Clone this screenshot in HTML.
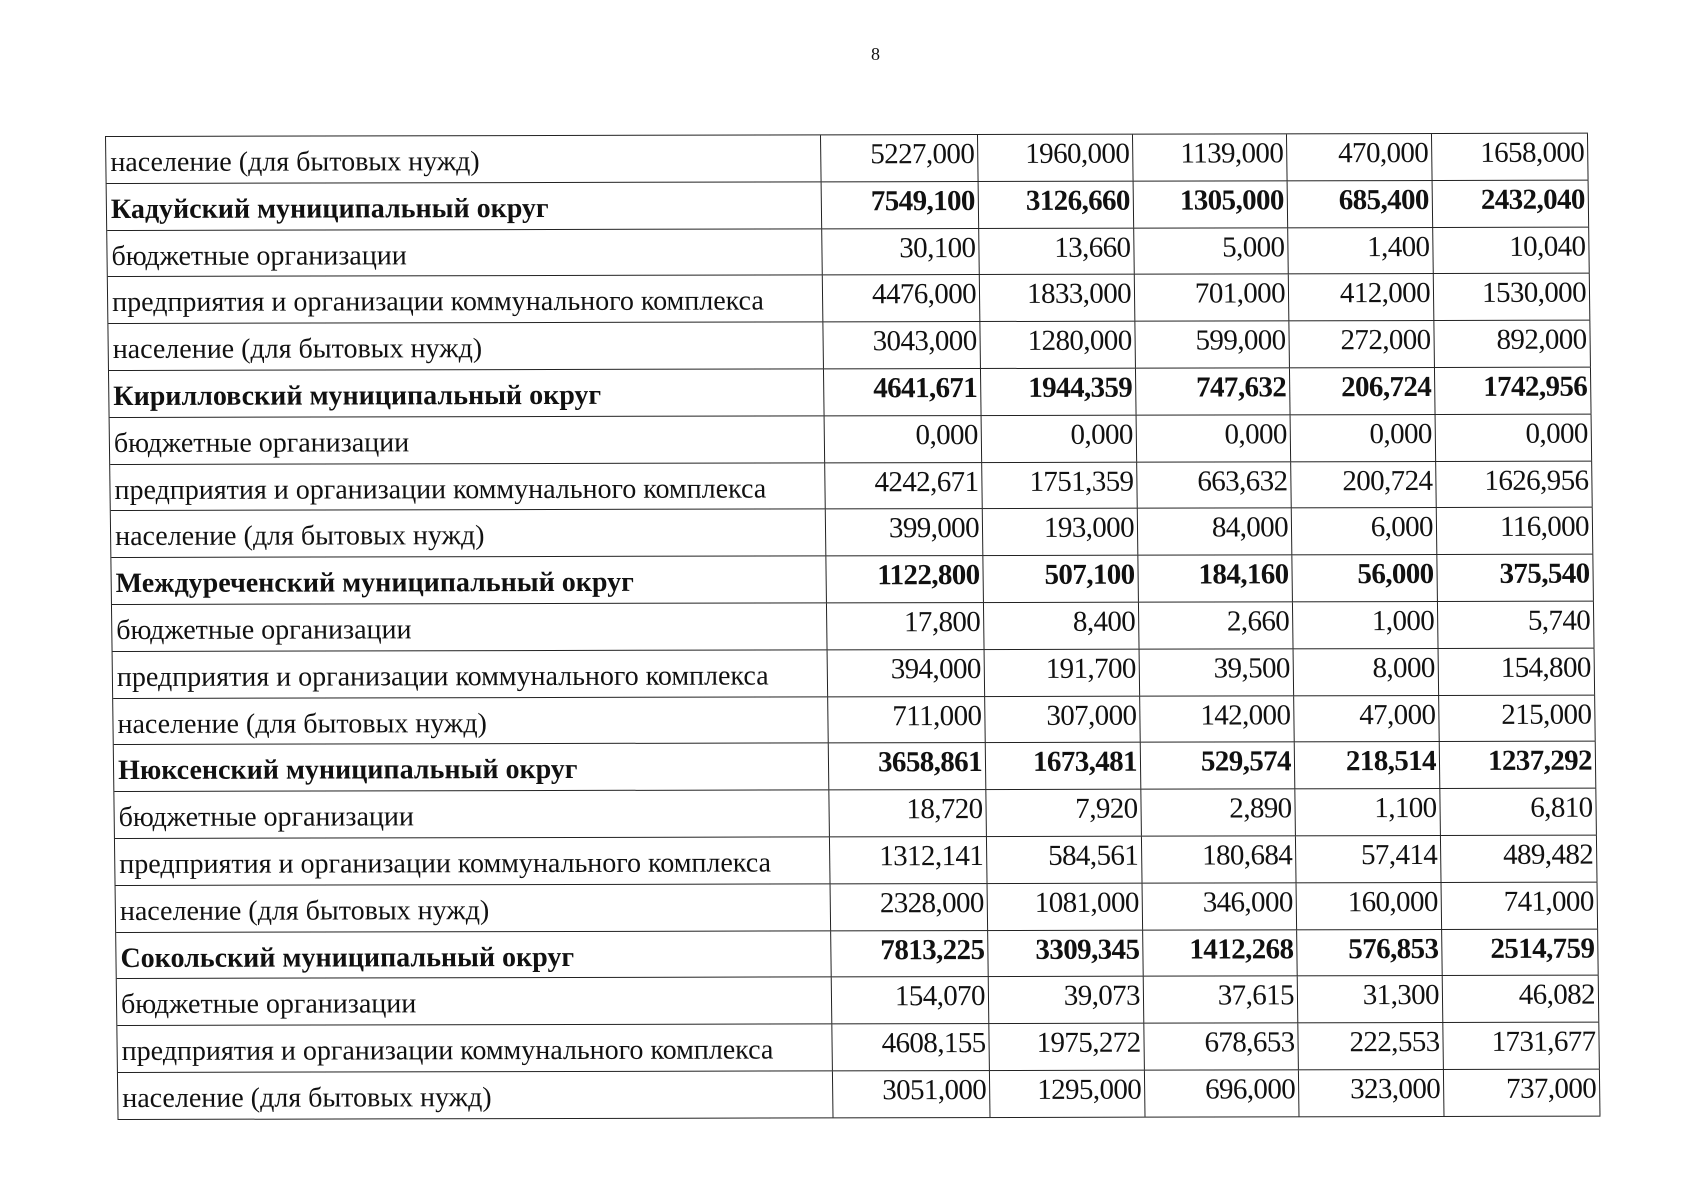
<!DOCTYPE html>
<html><head><meta charset="utf-8"><style>
html,body{margin:0;padding:0;background:#fff;}
body{width:1697px;height:1200px;position:relative;overflow:hidden;font-family:"Liberation Serif",serif;color:#111;}
.pn{position:absolute;left:871px;top:44px;font-size:18px;}
.t{position:absolute;left:105px;top:136px;width:1482px;border-top:1.5px solid #222;border-left:1.5px solid #222;transform:skewX(0.6deg) rotate(-0.13deg);transform-origin:0 0;}
.r{display:flex;height:46.8px;box-sizing:border-box;border-bottom:1.5px solid #222;}
.r>div{box-sizing:border-box;border-right:1.5px solid #222;height:100%;white-space:nowrap;overflow:hidden;}
.r>div:nth-child(1){width:715px;font-size:28px;line-height:28px;padding:12px 0 0 4px;}
.r>div:nth-child(2){width:157px}
.r>div:nth-child(3){width:155px}
.r>div:nth-child(4){width:154px}
.r>div:nth-child(5){width:145px}
.r>div:nth-child(6){width:156px}
.r>div.n{text-align:right;font-size:29px;line-height:28px;letter-spacing:-0.6px;padding:5px 3px 0 0;}
.b>div{font-weight:bold;}
</style></head><body>
<div class="pn">8</div>
<div class="t">
<div class="r"><div>население (для бытовых нужд)</div><div class="n">5227,000</div><div class="n">1960,000</div><div class="n">1139,000</div><div class="n">470,000</div><div class="n">1658,000</div></div>
<div class="r b"><div>Кадуйский муниципальный округ</div><div class="n">7549,100</div><div class="n">3126,660</div><div class="n">1305,000</div><div class="n">685,400</div><div class="n">2432,040</div></div>
<div class="r"><div>бюджетные организации</div><div class="n">30,100</div><div class="n">13,660</div><div class="n">5,000</div><div class="n">1,400</div><div class="n">10,040</div></div>
<div class="r"><div>предприятия и организации коммунального комплекса</div><div class="n">4476,000</div><div class="n">1833,000</div><div class="n">701,000</div><div class="n">412,000</div><div class="n">1530,000</div></div>
<div class="r"><div>население (для бытовых нужд)</div><div class="n">3043,000</div><div class="n">1280,000</div><div class="n">599,000</div><div class="n">272,000</div><div class="n">892,000</div></div>
<div class="r b"><div>Кирилловский муниципальный округ</div><div class="n">4641,671</div><div class="n">1944,359</div><div class="n">747,632</div><div class="n">206,724</div><div class="n">1742,956</div></div>
<div class="r"><div>бюджетные организации</div><div class="n">0,000</div><div class="n">0,000</div><div class="n">0,000</div><div class="n">0,000</div><div class="n">0,000</div></div>
<div class="r"><div>предприятия и организации коммунального комплекса</div><div class="n">4242,671</div><div class="n">1751,359</div><div class="n">663,632</div><div class="n">200,724</div><div class="n">1626,956</div></div>
<div class="r"><div>население (для бытовых нужд)</div><div class="n">399,000</div><div class="n">193,000</div><div class="n">84,000</div><div class="n">6,000</div><div class="n">116,000</div></div>
<div class="r b"><div>Междуреченский муниципальный округ</div><div class="n">1122,800</div><div class="n">507,100</div><div class="n">184,160</div><div class="n">56,000</div><div class="n">375,540</div></div>
<div class="r"><div>бюджетные организации</div><div class="n">17,800</div><div class="n">8,400</div><div class="n">2,660</div><div class="n">1,000</div><div class="n">5,740</div></div>
<div class="r"><div>предприятия и организации коммунального комплекса</div><div class="n">394,000</div><div class="n">191,700</div><div class="n">39,500</div><div class="n">8,000</div><div class="n">154,800</div></div>
<div class="r"><div>население (для бытовых нужд)</div><div class="n">711,000</div><div class="n">307,000</div><div class="n">142,000</div><div class="n">47,000</div><div class="n">215,000</div></div>
<div class="r b"><div>Нюксенский муниципальный округ</div><div class="n">3658,861</div><div class="n">1673,481</div><div class="n">529,574</div><div class="n">218,514</div><div class="n">1237,292</div></div>
<div class="r"><div>бюджетные организации</div><div class="n">18,720</div><div class="n">7,920</div><div class="n">2,890</div><div class="n">1,100</div><div class="n">6,810</div></div>
<div class="r"><div>предприятия и организации коммунального комплекса</div><div class="n">1312,141</div><div class="n">584,561</div><div class="n">180,684</div><div class="n">57,414</div><div class="n">489,482</div></div>
<div class="r"><div>население (для бытовых нужд)</div><div class="n">2328,000</div><div class="n">1081,000</div><div class="n">346,000</div><div class="n">160,000</div><div class="n">741,000</div></div>
<div class="r b"><div>Сокольский муниципальный округ</div><div class="n">7813,225</div><div class="n">3309,345</div><div class="n">1412,268</div><div class="n">576,853</div><div class="n">2514,759</div></div>
<div class="r"><div>бюджетные организации</div><div class="n">154,070</div><div class="n">39,073</div><div class="n">37,615</div><div class="n">31,300</div><div class="n">46,082</div></div>
<div class="r"><div>предприятия и организации коммунального комплекса</div><div class="n">4608,155</div><div class="n">1975,272</div><div class="n">678,653</div><div class="n">222,553</div><div class="n">1731,677</div></div>
<div class="r"><div>население (для бытовых нужд)</div><div class="n">3051,000</div><div class="n">1295,000</div><div class="n">696,000</div><div class="n">323,000</div><div class="n">737,000</div></div>
</div>
</body></html>
